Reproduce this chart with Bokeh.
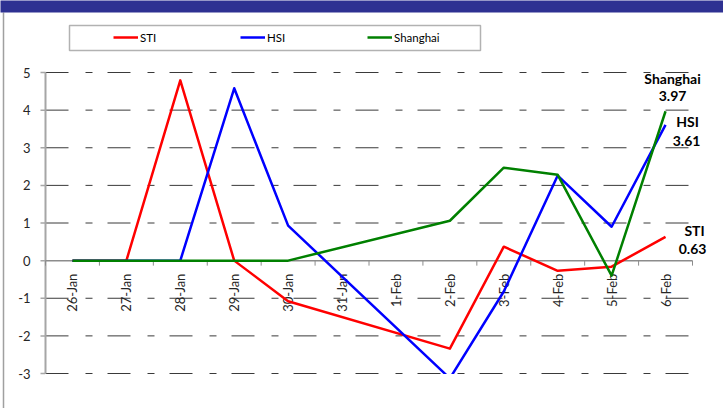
import math
from bokeh.plotting import figure
from bokeh.models import (Range1d, BoxAnnotation, Legend, LegendItem,
                          LabelSet, ColumnDataSource)
from bokeh.core.properties import value
from bokeh.embed import file_html
from bokeh.resources import INLINE

# ---------------- data ----------------
dates = ["26-Jan", "27-Jan", "28-Jan", "29-Jan", "30-Jan", "31-Jan",
         "1-Feb", "2-Feb", "3-Feb", "4-Feb", "5-Feb", "6-Feb"]
weekend = ["31-Jan", "1-Feb"]
trading_days = [d for d in dates if d not in weekend]

series_names = ["STI", "HSI", "Shanghai"]
sti = [0, 0, 4.79, 0, -1.08, -2.34, 0.37, -0.27, -0.16, 0.63]
hsi = [0, 0, 0, 4.58, 0.93, -3.13, -0.82, 2.26, 0.90, 3.61]
shanghai = [0, 0, 0, 0, 0, 1.06, 2.47, 2.28, -0.40, 3.97]
y_ticks = [-3, -2, -1, 0, 1, 2, 3, 4, 5]

# ---------------- layout / styling ----------------
W, H = 723, 408
PLOT_L, PLOT_R, PLOT_T, PLOT_B = 45, 692, 72, 373     # plot area in px
YMIN, YMAX = y_ticks[0], y_ticks[-1]
NCAT = len(dates)
UX = (PLOT_R - PLOT_L) / NCAT
UY = (PLOT_B - PLOT_T) / (YMAX - YMIN)


def dx(px):   # pixel column -> data x (category units)
    return (px - PLOT_L) / UX


def dy(py):   # pixel row -> data y
    return YMAX - (py - PLOT_T) / UY


colors = ["#FF0000", "#0000FF", "#008000"]
# screen offsets (px, y up) for end-of-line labels: (name offset, value offset)
end_label_offsets = [((29, 6), (27, -12)),
                     ((22, 3), (21, -16)),
                     ((7, 33), (7, 15))]
FONT = "Lato"

p = figure(width=W, height=H,
           x_range=Range1d(dx(0), dx(W)), y_range=Range1d(dy(H), dy(0)),
           x_axis_location=None, y_axis_location=None,
           output_backend="svg", toolbar_location=None,
           min_border=0)
p.outline_line_color = None
p.background_fill_color = "white"
p.border_fill_color = "white"
p.grid.grid_line_color = None

cat_x = {d: i + 0.5 for i, d in enumerate(dates)}
x0_cat, x1_cat = 0, NCAT

# header band and slide border
p.add_layout(BoxAnnotation(left=dx(-5), right=dx(W + 5), top=dy(-5),
                           bottom=dy(12), fill_color="#2E3192",
                           fill_alpha=1, line_alpha=0))
p.segment(x0=[dx(3)], y0=[dy(12)], x1=[dx(3)], y1=[dy(H + 2)],
          line_color="#A0A0A0", line_width=1.5)

# dashed horizontal gridlines
grid_y = [t for t in y_ticks if t != 0]
p.segment(x0=[x0_cat] * len(grid_y), y0=grid_y,
          x1=[x1_cat] * len(grid_y), y1=grid_y,
          line_color="#3A3A3A", line_width=1, line_dash="23 17 7 15")

# y axis (manual)
p.segment(x0=[x0_cat], y0=[YMIN], x1=[x0_cat], y1=[YMAX],
          line_color="#A6A6A6", line_width=2)
p.ray(x=[x0_cat] * len(y_ticks), y=y_ticks, length=5, length_units="screen",
      angle=math.pi, line_color="#A6A6A6", line_width=1.5)
p.text(x=[x0_cat] * len(y_ticks), y=y_ticks, text=[str(t) for t in y_ticks],
       x_offset=-15, text_align="right", text_baseline="middle",
       text_font=value(FONT), text_font_size=value("13px"),
       text_color="#262626")

# horizontal category axis at zero
p.segment(x0=[x0_cat], y0=[0], x1=[x1_cat], y1=[0],
          line_color="#8C8C8C", line_width=1.5)
bounds = list(range(NCAT + 1))
p.ray(x=bounds, y=[0] * len(bounds), length=5, length_units="screen",
      angle=-math.pi / 2, line_color="#8C8C8C", line_width=1)
label_y = dy(PLOT_T + (0 - YMAX) * -UY + 13)   # 13 px below the zero line
p.text(x=[cat_x[d] for d in dates], y=[label_y] * NCAT, text=dates,
       angle=math.pi / 2, text_align="right", text_baseline="middle",
       text_font=value(FONT), text_font_size=value("13px"),
       text_color="#262626")

# series
renderers = []
for name, vals, col in zip(series_names, [sti, hsi, shanghai], colors):
    r = p.line(x=[cat_x[d] for d in trading_days], y=vals, line_color=col,
               line_width=2.5, line_join="round")
    renderers.append(r)

# clip everything below the plot area (values beyond the axis minimum)
p.add_layout(BoxAnnotation(left=x0_cat - 0.01, right=x1_cat + 0.3,
                           top=dy(PLOT_B + 0.6), bottom=dy(H + 5),
                           fill_color="white", fill_alpha=1, line_alpha=0))

# legend
legend = Legend(items=[LegendItem(label=n, renderers=[r])
                       for n, r in zip(series_names, renderers)],
                orientation="horizontal", location=(113, H - 47),
                padding=0, margin=0, spacing=0,
                glyph_width=25, glyph_height=20,
                label_width=100, label_height=20, label_standoff=2,
                border_line_alpha=0, background_fill_alpha=0,
                label_text_font=FONT, label_text_font_size="11.5px",
                label_text_color="#000000")
p.add_layout(legend)

p.add_layout(BoxAnnotation(left=dx(69), right=dx(480), top=dy(25),
                           bottom=dy(50), fill_color=None,
                           line_color="#000000", line_width=1.5))

# end-of-line labels
last_vals = [s[-1] for s in [sti, hsi, shanghai]]
src = ColumnDataSource(dict(
    x=[cat_x[trading_days[-1]]] * len(series_names),
    y=last_vals,
    name=series_names,
    val=["%.2f" % v for v in last_vals],
    ndx=[o[0][0] for o in end_label_offsets],
    ndy=[o[0][1] for o in end_label_offsets],
    vdx=[o[1][0] for o in end_label_offsets],
    vdy=[o[1][1] for o in end_label_offsets],
))
for txt, ox, oy in [("name", "ndx", "ndy"), ("val", "vdx", "vdy")]:
    p.add_layout(LabelSet(x="x", y="y", text=txt, source=src,
                          x_offset=ox, y_offset=oy,
                          text_align="center", text_baseline="middle",
                          text_font=value(FONT), text_font_style="bold",
                          text_font_size=value("14px"),
                          text_color="#000000"))

open("out.html", "w").write(file_html(p, INLINE))
